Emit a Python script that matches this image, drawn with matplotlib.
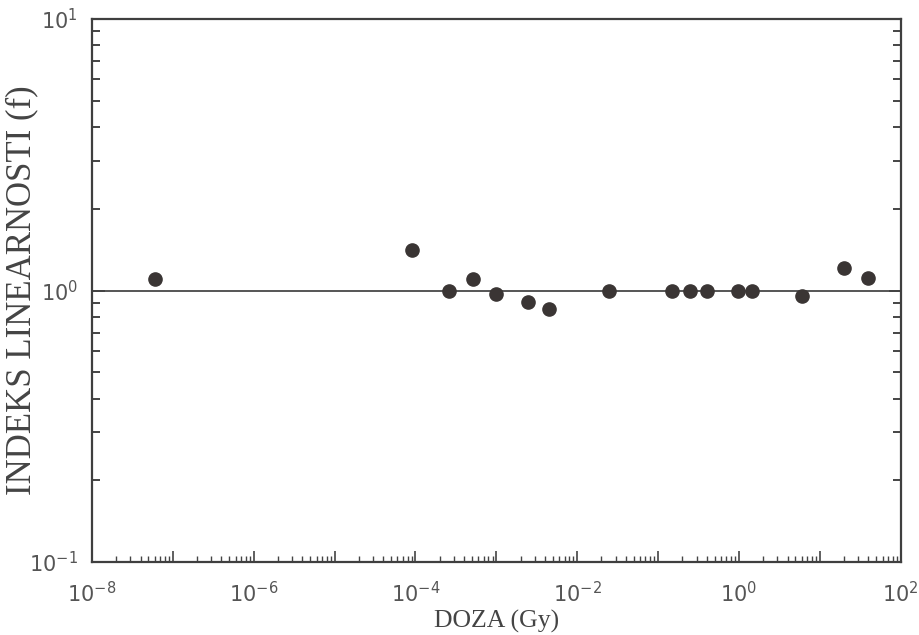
import numpy as np
import matplotlib
matplotlib.use("Agg")
import matplotlib.pyplot as plt
from matplotlib.ticker import LogLocator, FixedLocator, FuncFormatter, NullFormatter

plt.rcParams["mathtext.fontset"] = "custom"
plt.rcParams["mathtext.rm"] = "Liberation Sans"
plt.rcParams["mathtext.it"] = "Liberation Sans"
plt.rcParams["mathtext.bf"] = "Liberation Sans"

# doza (Gy) i indeks linearnosti
doza = [6.0e-8, 9.2e-5, 2.6e-4, 5.1e-4, 1.0e-3, 2.5e-3, 4.5e-3, 2.5e-2,
        0.148, 0.25, 0.40, 0.98, 1.45, 6.0, 20.0, 40.0]
indeks = [1.10, 1.41, 1.00, 1.10, 0.97, 0.91, 0.855, 1.00,
          1.00, 1.00, 1.00, 1.00, 1.00, 0.955, 1.21, 1.11]

x_labels_exp = [-8, -6, -4, -2, 0, 2]
y_labels_exp = [-1, 0, 1]

ink = "#3a3534"

fig = plt.figure(figsize=(9.19, 6.35), dpi=100, facecolor="white")
ax = fig.add_axes([0.100, 0.115, 0.880, 0.855])

ax.set_xscale("log")
ax.set_yscale("log")
ax.set_xlim(1e-8, 1e2)
ax.set_ylim(1e-1, 1e1)

ax.axhline(1.0, color="#555555", lw=1.4, zorder=1)
ax.plot(doza, indeks, "o", color=ink, ms=9.5, zorder=3)

# x os: glavne crtice na svakoj dekadi, oznake samo na parnim
ax.xaxis.set_major_locator(FixedLocator([10.0**e for e in range(-8, 3)]))
ax.xaxis.set_minor_locator(LogLocator(base=10, subs=np.arange(2, 10), numticks=30))
ax.xaxis.set_major_formatter(FuncFormatter(
    lambda v, p: r"$\mathregular{10^{%d}}$" % round(np.log10(v))
    if round(np.log10(v)) in x_labels_exp else ""))
ax.xaxis.set_minor_formatter(NullFormatter())

ax.yaxis.set_major_locator(FixedLocator([10.0**e for e in y_labels_exp]))
ax.yaxis.set_minor_locator(LogLocator(base=10, subs=np.arange(2, 10), numticks=10))
ax.yaxis.set_major_formatter(FuncFormatter(
    lambda v, p: r"$\mathregular{10^{%d}}$" % round(np.log10(v))))
ax.yaxis.set_minor_formatter(NullFormatter())

ax.tick_params(axis="x", which="both", direction="in", bottom=True, top=False,
               colors="#444444", labelcolor="#555555", labelsize=15, pad=14)
ax.tick_params(axis="x", which="major", length=8, width=1.2)
ax.tick_params(axis="x", which="minor", length=4, width=1.0)
ax.tick_params(axis="y", which="both", direction="in", left=True, right=True,
               colors="#444444", labelcolor="#555555", labelsize=15, pad=10)
ax.tick_params(axis="y", which="major", length=9, width=1.4)
ax.tick_params(axis="y", which="minor", length=6, width=1.4)

for s in ax.spines.values():
    s.set_color("#3f3f3f")
    s.set_linewidth(1.6)

ax.set_xlabel("DOZA (Gy)", family="Liberation Serif", fontsize=18.5,
              color="#444444")
ax.xaxis.set_label_coords(0.5, -0.088)
ax.set_ylabel("INDEKS LINEARNOSTI (f)", family="Liberation Serif", fontsize=25,
              color="#444444")
ax.yaxis.set_label_coords(-0.066, 0.5)

fig.savefig("out.png", dpi=100, facecolor="white")
